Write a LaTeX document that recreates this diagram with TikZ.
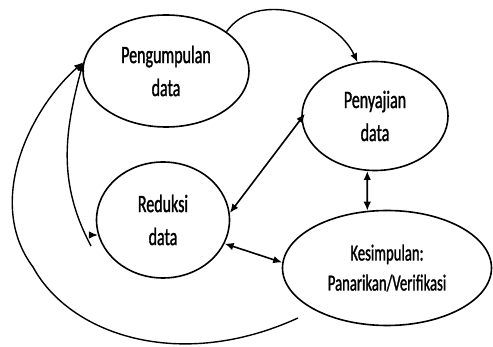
\documentclass[tikz,border=0pt]{standalone}
\usepackage{fontspec}
\setmainfont{Carlito}[FakeStretch=0.64, FakeBold=1.2]
\usetikzlibrary{shapes.geometric, arrows.meta}

\begin{document}
\begin{tikzpicture}[x=1pt, y=-1pt,
	tahap/.style={ellipse, draw=black, line width=1.6pt, align=center, inner sep=0pt,
	              font=\fontsize{25}{33}\selectfont},
	arr/.style={-{Latex[length=9pt, width=7.5pt]}, draw=black, line width=1.4pt},
	dua/.style={{Latex[length=9pt, width=7.5pt]}-{Latex[length=9pt, width=7.5pt]}, draw=black, line width=1.6pt}
	]
\useasboundingbox (0,0) rectangle (493,347);

\node[tahap, minimum width=166pt, minimum height=112pt] (kumpul) at (166,71)  {Pengumpulan\\data};
\node[tahap, minimum width=146pt, minimum height=109pt] (saji)   at (375,116) {Penyajian\\data};
\node[tahap, minimum width=133pt, minimum height=116pt] (reduksi) at (163,220) {Reduksi\\data};
\node[tahap, minimum width=209pt, minimum height=115pt, font=\fontsize{23}{30}\selectfont]
  (simpul) at (387,268) {Kesimpulan:\\Panarikan/Verifikasi};

\coordinate (ujungluar)  at (298,318);
\coordinate (ujungdalam) at (91,246);
\coordinate (ujungpendek) at (90,235);

\draw[arr] (kumpul.33) to[out=55, in=115] (saji.108);
\draw[dua, shorten >=-6pt] (reduksi.6) -- (saji.182);
\draw[dua] (saji.262) -- (simpul.109);
\draw[dua] (reduksi.-21) -- (simpul.177);

\draw[arr] (ujungluar) .. controls (180,372) and (70,335) .. (33,267)
  .. controls (-15,203) and (29,110) .. (kumpul.174);
\draw[arr] (ujungdalam) to[out=118, in=255] (kumpul.174);
\draw[arr] (ujungpendek) -- (reduksi.193);
\end{tikzpicture}
\end{document}
